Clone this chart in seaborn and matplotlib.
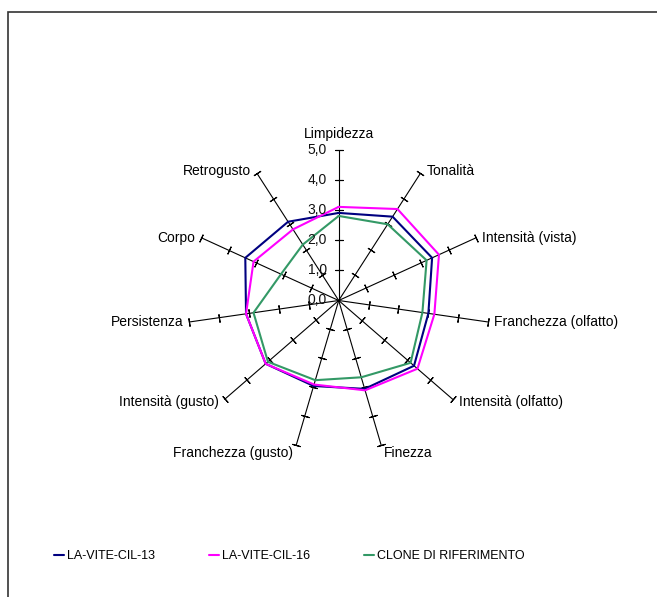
import numpy as np
import pandas as pd
import seaborn as sns
import matplotlib.pyplot as plt
from matplotlib.patches import Rectangle

# Dati
categorie = ['Limpidezza', 'Tonalità', 'Intensità (vista)', 'Franchezza (olfatto)',
             'Intensità (olfatto)', 'Finezza', 'Franchezza (gusto)', 'Intensità (gusto)',
             'Persistenza', 'Corpo', 'Retrogusto']
cil_13 = [2.9, 3.3, 3.4, 3.0, 3.3, 3.05, 2.95, 3.2, 3.1, 3.4, 3.1]
cil_16 = [3.1, 3.6, 3.65, 3.2, 3.45, 3.1, 2.9, 3.2, 3.1, 3.1, 2.8]
clone_rif = [2.8, 3.0, 3.2, 2.8, 3.15, 2.65, 2.75, 3.1, 2.85, 2.1, 2.2]
serie = ['LA-VITE-CIL-13', 'LA-VITE-CIL-16', 'CLONE DI RIFERIMENTO']
colori = ['#000080', '#FF00FF', '#339966']
tacche = [0, 1, 2, 3, 4, 5]

sns.set_style('white')
plt.rcParams['font.family'] = ['Liberation Sans', 'DejaVu Sans']
plt.rcParams['font.size'] = 10
plt.rcParams['text.color'] = 'black'

n = len(categorie)
angoli = np.linspace(0, 2 * np.pi, n, endpoint=False)

# tabella in formato lungo, poligono chiuso per ogni serie
righe = []
for nome, valori in zip(serie, [cil_13, cil_16, clone_rif]):
    for k in range(n + 1):
        righe.append({'theta': angoli[k % n] if k < n else 2 * np.pi,
                      'valore': valori[k % n], 'serie': nome})
df = pd.DataFrame(righe)

fig = plt.figure(figsize=(6.57, 5.97), dpi=100)
W, H = 657, 597
cx, cy, R = 338.7, 300.5, 151
ax = fig.add_axes([(cx - R) / W, (H - cy - R) / H, 2 * R / W, 2 * R / H], projection='polar')
ax.set_theta_zero_location('N')
ax.set_theta_direction(-1)
ax.set_ylim(0, 5)
ax.grid(False)
ax.set_xticks([])
ax.set_yticks([])
ax.spines['polar'].set_visible(False)
ax.patch.set_alpha(0)

# assi radiali con tacche
for i, t in enumerate(angoli):
    ax.plot([t, t], [0, 5], color='black', lw=0.8, clip_on=False, zorder=1)
    rot = 90 - np.degrees(t)
    ax.plot([t] * len(tacche[1:]), tacche[1:], ls='none', marker=(2, 2, rot),
            ms=6, mec='black', mew=0.8, clip_on=False, zorder=1)

sns.lineplot(data=df, x='theta', y='valore', hue='serie', palette=colori,
             sort=False, estimator=None, lw=1.5, ax=ax, zorder=3, legend=True)
handles, labels = ax.get_legend_handles_labels()
ax.get_legend().remove()
ax.set_xlabel('')
ax.set_ylabel('')

# etichette dei valori sull'asse Limpidezza
for r in tacche:
    ax.annotate(f'{r:.1f}'.replace('.', ','), xy=(0, r), xytext=(-12, 0),
                textcoords='offset pixels', ha='right', va='center', color='#111111')

# etichette delle categorie
for i, (t, nome) in enumerate(zip(angoli, categorie)):
    s, c = np.sin(t), np.cos(t)
    if abs(s) < 0.1:
        ha, va, off = 'center', 'bottom', (0, 9)
    elif c < -0.9:
        ha = 'left' if s > 0 else 'right'
        va, off = 'top', (3 if s > 0 else -3, -1)
    else:
        ha = 'left' if s > 0 else 'right'
        dy = -3 if c < -0.5 else (2 if c > 0.5 else 0)
        va, off = 'center', (6 if s > 0 else -6, dy)
    ax.annotate(nome, xy=(t, 5), xytext=off, textcoords='offset pixels',
                ha=ha, va=va, color='black')

fig.legend(handles, labels, loc='center left', bbox_to_anchor=(54 / W, 1 - 556 / H),
           ncol=3, frameon=False, handlelength=0.8, handletextpad=0.24,
           columnspacing=4.3, fontsize=9, borderpad=0, borderaxespad=0)

# cornice dell'area del grafico
fig.patches.append(Rectangle((8 / W, -0.1), 1.0, 1.1 - 12 / H, transform=fig.transFigure,
                             fill=False, ec='#333333', lw=1.2))

fig.savefig('out.png', dpi=100)
